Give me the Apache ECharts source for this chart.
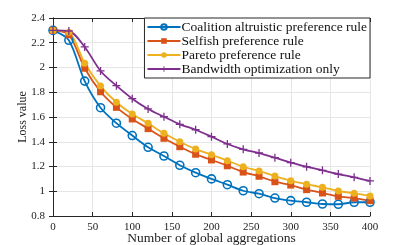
<!DOCTYPE html>
<html><head><meta charset="utf-8">
<script src="https://cdn.jsdelivr.net/npm/echarts@6/dist/echarts.min.js"></script>
<style>html,body{margin:0;padding:0;background:#fff}#c{width:409px;height:245px}</style>
</head><body><div id="c"></div>
<script>
const xValues = [0,20,40,60,80,100,120,140,160,180,200,220,240,260,280,300,320,340,360,380,400];
const coalition = [2.30,2.22,1.89,1.675,1.55,1.45,1.355,1.285,1.21,1.15,1.10,1.053,1.004,0.98,0.945,0.924,0.911,0.897,0.895,0.911,0.911];
const selfish = [2.30,2.265,1.994,1.804,1.678,1.584,1.506,1.428,1.36,1.299,1.253,1.206,1.155,1.121,1.077,1.05,1.013,0.986,0.959,0.945,0.924];
const pareto = [2.30,2.284,2.034,1.85,1.719,1.624,1.549,1.468,1.40,1.341,1.295,1.247,1.198,1.164,1.123,1.085,1.056,1.032,1.002,0.983,0.962];
const bandwidth = [2.30,2.295,2.166,1.972,1.853,1.748,1.665,1.602,1.541,1.497,1.441,1.382,1.339,1.309,1.271,1.231,1.198,1.169,1.139,1.113,1.083];
const seriesNames = ['Coalition altruistic preference rule','Selfish preference rule','Pareto preference rule','Bandwidth optimization only'];
const xTicks = [0,50,100,150,200,250,300,350,400];
const yTicks = [0.8,1,1.2,1.4,1.6,1.8,2,2.2,2.4];

const font = 'Liberation Serif';
const axisCol = '#262626';
const pair = arr => xValues.map((x,i)=>[x,arr[i]]);
const plus = 'path://M4.2,0H5.8V4.2H10V5.8H5.8V10H4.2V5.8H0V4.2H4.2Z';

function mkSeries(name, data, color, symbol, size, itemStyle){
  return {name, type:'line', data:pair(data), smooth:0.3, color,
    lineStyle:{color, width:1.8}, symbol, symbolSize:size, showAllSymbol:true,
    itemStyle, z:3, emphasis:{disabled:true}};
}
const chart = echarts.init(document.getElementById('c'), null, {renderer:'canvas'});
const baseX = {type:'value', min:xTicks[0], max:xTicks[xTicks.length-1], interval:xTicks[1]-xTicks[0]};
const baseY = {type:'value', min:yTicks[0], max:yTicks[yTicks.length-1], interval:0.2};
chart.setOption({
  animation:false,
  backgroundColor:'#fff',
  grid:{left:53, right:39, top:18, bottom:29, outerBoundsMode:'none', containLabel:false},
  xAxis:[
    Object.assign({}, baseX, {position:'bottom', name:'Number of global aggregations', nameLocation:'middle', nameGap:15,
      nameMoveOverlap:false,
      nameTextStyle:{fontFamily:font, fontSize:13.5, color:'#222'},
      axisLine:{lineStyle:{color:axisCol, width:1}}, axisTick:{inside:true, length:4, lineStyle:{color:axisCol}},
      axisLabel:{fontFamily:font, fontSize:11, color:'#222', margin:6},
      splitLine:{show:true, lineStyle:{color:'#e6e6e6', width:1}}}),
    Object.assign({}, baseX, {position:'top', axisLine:{lineStyle:{color:axisCol, width:1}},
      axisTick:{inside:true, length:4, lineStyle:{color:axisCol}}, axisLabel:{show:false}, splitLine:{show:false}})
  ],
  yAxis:[
    Object.assign({}, baseY, {position:'left', name:'Loss value', nameLocation:'middle', nameGap:24,
      nameMoveOverlap:false,
      nameTextStyle:{fontFamily:font, fontSize:12, color:'#222'},
      axisLine:{show:true, lineStyle:{color:axisCol, width:1}}, axisTick:{show:true, inside:true, length:4, lineStyle:{color:axisCol}},
      axisLabel:{fontFamily:font, fontSize:11, color:'#222', margin:8, formatter:v=>String(+v.toFixed(1))},
      splitLine:{show:true, lineStyle:{color:'#e6e6e6', width:1}}}),
    Object.assign({}, baseY, {position:'right', axisLine:{show:true, lineStyle:{color:axisCol, width:1}},
      axisTick:{show:true, inside:true, length:4, lineStyle:{color:axisCol}}, axisLabel:{show:false}, splitLine:{show:false}})
  ],
  legend:{
    right:39, top:18, orient:'vertical', itemGap:0, itemWidth:33, itemHeight:7,
    backgroundColor:'#fff', borderColor:'#262626', borderWidth:1, borderRadius:0,
    padding:[2,3,2,2],
    textStyle:{fontFamily:font, fontSize:13.5, color:'#111', lineHeight:13.5, padding:[0,0,0,-4]},
    data:seriesNames
  },
  series:[
    mkSeries(seriesNames[0], coalition, '#0072BD', 'circle', 8, {color:'rgba(255,255,255,0)', borderColor:'#0072BD', borderWidth:1.6}),
    mkSeries(seriesNames[1], selfish, '#D95319', 'rect', 7, {color:'#D95319'}),
    mkSeries(seriesNames[2], pareto, '#EDB120', 'circle', 7, {color:'#EDB120'}),
    mkSeries(seriesNames[3], bandwidth, '#7E2F8E', plus, 8, {color:'#7E2F8E'})
  ]
});
</script></body></html>
